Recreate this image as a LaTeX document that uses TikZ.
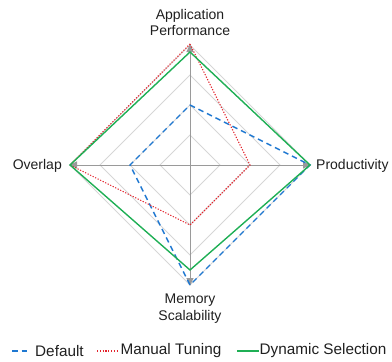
\documentclass[tikz,border=0pt]{standalone}
\usepackage{fontspec}
\setmainfont{Liberation Sans}
\usetikzlibrary{arrows.meta}
\definecolor{axisgray}{HTML}{9A9A9A}
\definecolor{gridgray}{HTML}{D6D6D6}
\definecolor{cblue}{HTML}{1F78D1}
\definecolor{cred}{HTML}{E3232C}
\definecolor{cgreen}{HTML}{1FAF55}
\begin{document}
\begin{tikzpicture}[x=1pt,y=-1pt,
  gridline/.style={draw=gridgray,line width=0.8pt},
  axisline/.style={draw=axisgray,line width=0.9pt,-{Triangle[length=8pt,width=7pt]}},
  lbl/.style={font=\fontsize{14}{16.5}\selectfont,text=black!88,inner sep=0pt,align=center},
  leglbl/.style={font=\fontsize{15.3}{18}\selectfont,text=black!88,inner sep=0pt,anchor=west},
  sdefault/.style={draw=cblue,line width=1.4pt,dash pattern=on 5.5pt off 4pt},
  smanual/.style={draw=cred,line width=1.1pt,dash pattern=on 1.2pt off 1.6pt},
  sdynamic/.style={draw=cgreen,line width=1.4pt}]
\useasboundingbox (0,0) rectangle (392,362);
\coordinate (C) at (190,165);
% grid rings
\foreach \r in {30,60,90,120}{
  \draw[gridline] (190,165-\r) -- (190+\r,165) -- (190,165+\r) -- (190-\r,165) -- cycle;
}
% axes
\coordinate (T) at (190,44);
\coordinate (R) at (311,165);
\coordinate (B) at (190,286);
\coordinate (L) at (69,165);
\draw[axisline] (C) -- (T);
\draw[axisline] (C) -- (R);
\draw[axisline] (C) -- (B);
\draw[axisline] (C) -- (L);
% data
\draw[sdefault] (190,105) -- (310,165) -- (190,285) -- (130,165) -- cycle;
\draw[smanual] (190,44) -- (250,165) -- (190,225) -- (70,165) -- cycle;
\draw[sdynamic] (190,52) -- (310,165) -- (190,270) -- (70,165) -- cycle;
% labels
\node[lbl] (lt) at (190,22.5) {Application\\Performance};
\node[lbl,anchor=west] (lr) at (316,165.5) {Productivity};
\node[lbl,anchor=east] (ll) at (62,165.5) {Overlap};
\node[lbl] (lb) at (190,308.5) {Memory\\Scalability};
% legend
\coordinate (a1) at (12,351); \coordinate (a2) at (30,351);
\draw[sdefault] (a1) -- (a2);
\node[leglbl] (l1) at (35,351) {Default};
\coordinate (b1) at (97,351); \coordinate (b2) at (119,351);
\draw[smanual] (b1) -- (b2);
\node[leglbl] (l2) at (120.5,351) {Manual Tuning};
\coordinate (c1) at (237,351); \coordinate (c2) at (259,351);
\draw[sdynamic] (c1) -- (c2);
\node[leglbl] (l3) at (259.5,351) {Dynamic Selection};
\end{tikzpicture}
\end{document}
